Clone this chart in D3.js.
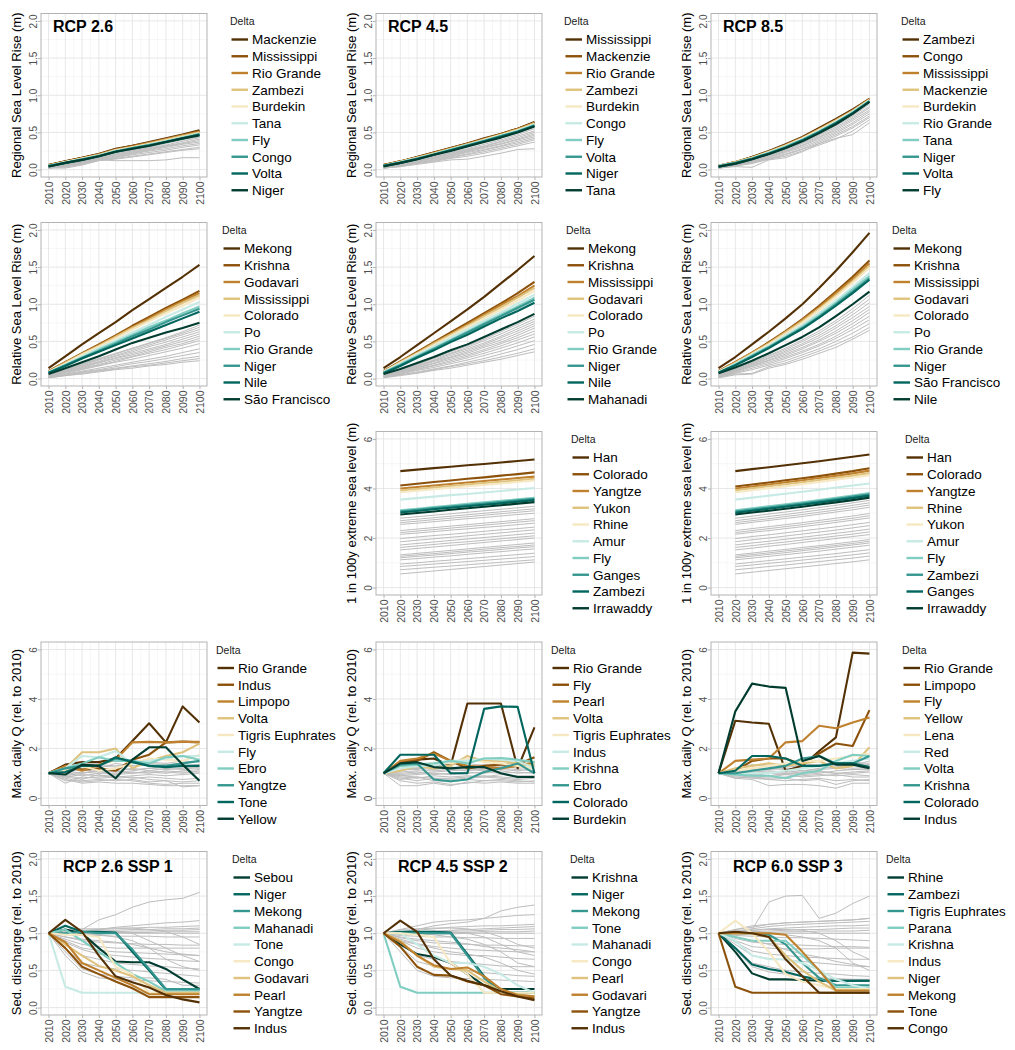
<!DOCTYPE html>
<html>
<head>
<meta charset="utf-8">
<script src="https://cdn.jsdelivr.net/npm/d3@7"></script>
<style>
  body { margin: 0; background: #fff; }
  svg { font-family: "Liberation Sans", Arial, sans-serif; }
</style>
</head>
<body>
<svg id="chart" width="1015" height="1050"></svg>
<script>
// ---- shared axes ----
const years = [2010, 2020, 2030, 2040, 2050, 2060, 2070, 2080, 2090, 2100];
const yearsEsl = [2020, 2030, 2040, 2050, 2060, 2070, 2080, 2090, 2100];
const brbg = ["#543005", "#8c510a", "#bf812d", "#dfc27d", "#f6e8c3", "#c7eae5", "#80cdc1", "#35978f", "#01665e", "#003c30"];
const brbgReversed = brbg.slice().reverse();

// ---- Regional sea level rise, RCP 2.6 ----
const reg26Deltas = ["Mackenzie", "Mississippi", "Rio Grande", "Zambezi", "Burdekin", "Tana", "Fly", "Congo", "Volta", "Niger"];
const reg26Values = [
  [0.06,0.11,0.16,0.21,0.28,0.32,0.37,0.42,0.47,0.53],
  [0.06,0.11,0.16,0.21,0.27,0.32,0.36,0.41,0.46,0.52],
  [0.06,0.10,0.15,0.20,0.27,0.31,0.36,0.41,0.46,0.51],
  [0.05,0.10,0.15,0.20,0.26,0.30,0.35,0.40,0.45,0.50],
  [0.05,0.10,0.15,0.19,0.26,0.30,0.34,0.39,0.44,0.49],
  [0.05,0.10,0.14,0.19,0.25,0.29,0.34,0.38,0.43,0.48],
  [0.05,0.09,0.14,0.19,0.25,0.29,0.33,0.38,0.43,0.48],
  [0.05,0.09,0.14,0.18,0.24,0.29,0.33,0.37,0.42,0.47],
  [0.04,0.09,0.13,0.18,0.24,0.28,0.32,0.37,0.42,0.47],
  [0.04,0.09,0.13,0.18,0.24,0.28,0.32,0.37,0.42,0.46]
];
const reg26Others = [
  [0.03,0.07,0.12,0.16,0.22,0.26,0.30,0.35,0.40,0.44],
  [0.03,0.07,0.11,0.16,0.21,0.25,0.29,0.33,0.38,0.43],
  [0.03,0.07,0.11,0.15,0.20,0.24,0.28,0.32,0.36,0.41],
  [0.03,0.06,0.10,0.14,0.19,0.23,0.27,0.31,0.35,0.39],
  [0.02,0.06,0.10,0.14,0.18,0.22,0.26,0.30,0.34,0.37],
  [0.02,0.05,0.09,0.13,0.17,0.21,0.25,0.28,0.32,0.35],
  [0.02,0.05,0.08,0.12,0.16,0.20,0.23,0.26,0.30,0.33],
  [0.02,0.04,0.07,0.13,0.15,0.18,0.21,0.24,0.27,0.30],
  [0.02,0.02,0.06,0.12,0.14,0.17,0.20,0.23,0.26,0.28],
  [0.03,0.03,0.08,0.13,0.12,0.12,0.12,0.13,0.16,0.16]
];

// ---- Regional sea level rise, RCP 4.5 ----
const reg45Deltas = ["Mississippi", "Mackenzie", "Rio Grande", "Zambezi", "Burdekin", "Congo", "Fly", "Volta", "Niger", "Tana"];
const reg45Values = [
  [0.06,0.11,0.17,0.23,0.29,0.35,0.42,0.48,0.55,0.64],
  [0.06,0.11,0.17,0.23,0.29,0.35,0.41,0.48,0.55,0.63],
  [0.06,0.11,0.16,0.22,0.28,0.34,0.41,0.47,0.54,0.63],
  [0.05,0.10,0.16,0.22,0.28,0.34,0.40,0.47,0.54,0.62],
  [0.05,0.10,0.16,0.21,0.27,0.33,0.40,0.46,0.53,0.61],
  [0.05,0.10,0.15,0.21,0.27,0.33,0.39,0.46,0.52,0.61],
  [0.05,0.10,0.15,0.21,0.27,0.33,0.39,0.45,0.52,0.60],
  [0.05,0.09,0.15,0.20,0.26,0.32,0.38,0.45,0.51,0.59],
  [0.05,0.09,0.14,0.20,0.26,0.32,0.38,0.44,0.51,0.59],
  [0.04,0.09,0.14,0.20,0.25,0.31,0.37,0.43,0.50,0.58]
];
const reg45Others = [
  [0.04,0.08,0.13,0.18,0.23,0.28,0.34,0.40,0.47,0.55],
  [0.04,0.08,0.12,0.17,0.22,0.27,0.32,0.38,0.45,0.52],
  [0.03,0.07,0.12,0.16,0.21,0.26,0.31,0.37,0.43,0.50],
  [0.03,0.07,0.11,0.16,0.20,0.25,0.30,0.35,0.41,0.48],
  [0.03,0.06,0.11,0.15,0.19,0.24,0.29,0.34,0.40,0.46],
  [0.03,0.06,0.10,0.14,0.18,0.23,0.27,0.32,0.38,0.44],
  [0.02,0.05,0.09,0.13,0.17,0.21,0.26,0.31,0.36,0.42],
  [0.02,0.05,0.09,0.12,0.16,0.20,0.24,0.29,0.34,0.40],
  [0.02,0.04,0.08,0.11,0.15,0.18,0.22,0.27,0.32,0.37],
  [0.02,0.04,0.07,0.10,0.13,0.14,0.18,0.22,0.27,0.28]
];

// ---- Regional sea level rise, RCP 8.5 ----
const reg85Deltas = ["Zambezi", "Congo", "Mississippi", "Mackenzie", "Burdekin", "Rio Grande", "Tana", "Niger", "Volta", "Fly"];
const reg85Values = [
  [0.05,0.10,0.17,0.25,0.34,0.44,0.56,0.68,0.81,0.95],
  [0.05,0.10,0.17,0.24,0.33,0.43,0.55,0.67,0.80,0.95],
  [0.05,0.10,0.16,0.24,0.33,0.43,0.54,0.66,0.79,0.94],
  [0.05,0.10,0.16,0.24,0.32,0.42,0.54,0.66,0.79,0.94],
  [0.05,0.09,0.16,0.23,0.32,0.42,0.53,0.65,0.78,0.93],
  [0.05,0.09,0.15,0.23,0.31,0.41,0.52,0.64,0.78,0.93],
  [0.05,0.09,0.15,0.22,0.31,0.40,0.51,0.63,0.77,0.92],
  [0.04,0.09,0.15,0.22,0.30,0.40,0.51,0.63,0.76,0.92],
  [0.04,0.08,0.14,0.21,0.29,0.39,0.50,0.62,0.76,0.91],
  [0.04,0.08,0.14,0.21,0.29,0.38,0.49,0.61,0.75,0.91]
];
const reg85Others = [
  [0.04,0.08,0.13,0.20,0.28,0.37,0.47,0.59,0.72,0.88],
  [0.04,0.07,0.13,0.19,0.27,0.36,0.46,0.57,0.70,0.85],
  [0.03,0.07,0.12,0.19,0.26,0.35,0.44,0.55,0.68,0.83],
  [0.03,0.07,0.12,0.18,0.25,0.33,0.43,0.53,0.66,0.80],
  [0.03,0.06,0.11,0.17,0.24,0.32,0.41,0.51,0.63,0.78],
  [0.03,0.06,0.10,0.16,0.23,0.30,0.39,0.49,0.61,0.75],
  [0.02,0.05,0.10,0.15,0.21,0.28,0.37,0.47,0.58,0.72],
  [0.02,0.05,0.09,0.14,0.20,0.27,0.35,0.45,0.56,0.70],
  [0.02,0.05,0.08,0.14,0.18,0.25,0.33,0.41,0.52,0.67],
  [0.02,0.04,0.03,0.13,0.16,0.24,0.35,0.42,0.47,0.63]
];

// ---- Relative sea level rise, RCP 2.6 ----
const rel26Deltas = ["Mekong", "Krishna", "Godavari", "Mississippi", "Colorado", "Po", "Rio Grande", "Niger", "Nile", "São Francisco"];
const rel26Values = [
  [0.14,0.30,0.46,0.61,0.76,0.92,1.07,1.22,1.37,1.53],
  [0.10,0.22,0.34,0.46,0.58,0.71,0.83,0.95,1.06,1.18],
  [0.10,0.22,0.33,0.45,0.57,0.69,0.81,0.93,1.04,1.15],
  [0.09,0.21,0.33,0.44,0.56,0.68,0.79,0.91,1.02,1.12],
  [0.09,0.20,0.32,0.43,0.54,0.66,0.77,0.88,0.98,1.09],
  [0.09,0.19,0.30,0.41,0.51,0.62,0.72,0.83,0.93,1.03],
  [0.08,0.18,0.28,0.39,0.49,0.59,0.69,0.78,0.88,0.97],
  [0.08,0.18,0.28,0.37,0.47,0.57,0.66,0.76,0.85,0.94],
  [0.08,0.17,0.27,0.36,0.45,0.54,0.63,0.72,0.81,0.90],
  [0.06,0.14,0.22,0.30,0.39,0.48,0.55,0.62,0.68,0.75]
];
const rel26Others = [
  [0.06,0.13,0.20,0.27,0.34,0.41,0.48,0.55,0.63,0.72],
  [0.05,0.12,0.19,0.26,0.33,0.40,0.47,0.54,0.61,0.69],
  [0.05,0.11,0.18,0.25,0.31,0.38,0.45,0.52,0.59,0.66],
  [0.05,0.11,0.17,0.23,0.30,0.36,0.43,0.49,0.56,0.63],
  [0.04,0.10,0.16,0.22,0.28,0.34,0.40,0.46,0.53,0.60],
  [0.04,0.09,0.15,0.21,0.27,0.32,0.38,0.44,0.50,0.57],
  [0.04,0.09,0.14,0.19,0.25,0.30,0.36,0.42,0.47,0.54],
  [0.03,0.08,0.13,0.18,0.23,0.29,0.34,0.39,0.45,0.51],
  [0.03,0.07,0.12,0.17,0.22,0.26,0.31,0.36,0.41,0.47],
  [0.02,0.06,0.10,0.14,0.18,0.22,0.26,0.30,0.35,0.40],
  [0.02,0.05,0.09,0.12,0.16,0.20,0.23,0.27,0.31,0.35],
  [0.02,0.05,0.08,0.11,0.14,0.17,0.20,0.23,0.27,0.30],
  [0.01,0.04,0.07,0.10,0.13,0.16,0.18,0.21,0.24,0.27],
  [0.01,0.04,0.06,0.09,0.12,0.14,0.17,0.19,0.22,0.24]
];

// ---- Relative sea level rise, RCP 4.5 ----
const rel45Deltas = ["Mekong", "Krishna", "Mississippi", "Godavari", "Colorado", "Po", "Rio Grande", "Niger", "Nile", "Mahanadi"];
const rel45Values = [
  [0.14,0.29,0.45,0.61,0.77,0.93,1.10,1.28,1.46,1.65],
  [0.10,0.23,0.36,0.49,0.62,0.75,0.88,1.01,1.15,1.30],
  [0.10,0.22,0.35,0.48,0.60,0.73,0.86,0.99,1.11,1.25],
  [0.09,0.22,0.34,0.47,0.59,0.71,0.84,0.96,1.09,1.22],
  [0.09,0.21,0.33,0.45,0.57,0.69,0.81,0.93,1.05,1.18],
  [0.09,0.20,0.32,0.43,0.55,0.66,0.78,0.89,1.01,1.13],
  [0.08,0.19,0.30,0.41,0.52,0.63,0.75,0.86,0.97,1.09],
  [0.08,0.18,0.29,0.40,0.51,0.62,0.73,0.84,0.95,1.06],
  [0.07,0.17,0.28,0.38,0.49,0.59,0.70,0.81,0.91,1.02],
  [0.06,0.13,0.21,0.29,0.38,0.46,0.56,0.66,0.76,0.87]
];
const rel45Others = [
  [0.05,0.12,0.20,0.28,0.36,0.44,0.53,0.63,0.73,0.84],
  [0.05,0.11,0.19,0.27,0.34,0.42,0.51,0.60,0.70,0.80],
  [0.05,0.11,0.18,0.25,0.33,0.40,0.48,0.57,0.67,0.77],
  [0.04,0.10,0.17,0.24,0.31,0.38,0.46,0.55,0.64,0.74],
  [0.04,0.10,0.16,0.23,0.29,0.36,0.44,0.52,0.61,0.71],
  [0.04,0.09,0.15,0.21,0.28,0.34,0.42,0.49,0.58,0.68],
  [0.03,0.08,0.14,0.20,0.26,0.32,0.39,0.47,0.55,0.64],
  [0.03,0.08,0.13,0.18,0.24,0.30,0.37,0.44,0.52,0.60],
  [0.03,0.07,0.12,0.17,0.22,0.28,0.34,0.41,0.48,0.56],
  [0.02,0.06,0.11,0.15,0.20,0.25,0.31,0.37,0.44,0.51],
  [0.02,0.05,0.09,0.13,0.17,0.22,0.27,0.33,0.39,0.46],
  [0.02,0.05,0.08,0.12,0.16,0.20,0.24,0.29,0.34,0.40],
  [0.01,0.04,0.07,0.11,0.14,0.18,0.22,0.26,0.31,0.36]
];

// ---- Relative sea level rise, RCP 8.5 ----
const rel85Deltas = ["Mekong", "Krishna", "Mississippi", "Godavari", "Colorado", "Po", "Rio Grande", "Niger", "São Francisco", "Nile"];
const rel85Values = [
  [0.14,0.29,0.46,0.63,0.81,1.00,1.22,1.45,1.70,1.96],
  [0.10,0.22,0.35,0.49,0.64,0.80,0.98,1.17,1.37,1.59],
  [0.10,0.22,0.35,0.48,0.63,0.79,0.96,1.15,1.34,1.55],
  [0.09,0.21,0.34,0.47,0.62,0.77,0.94,1.12,1.31,1.52],
  [0.09,0.20,0.33,0.46,0.60,0.75,0.92,1.10,1.29,1.49],
  [0.09,0.20,0.32,0.44,0.58,0.72,0.88,1.05,1.23,1.42],
  [0.08,0.19,0.31,0.43,0.56,0.70,0.85,1.02,1.20,1.38],
  [0.08,0.18,0.30,0.42,0.55,0.68,0.83,1.00,1.17,1.35],
  [0.08,0.18,0.29,0.41,0.54,0.67,0.82,0.98,1.15,1.33],
  [0.07,0.15,0.24,0.34,0.45,0.56,0.69,0.84,1.00,1.17]
];
const rel85Others = [
  [0.06,0.13,0.22,0.31,0.41,0.52,0.64,0.78,0.94,1.12],
  [0.05,0.12,0.21,0.30,0.39,0.50,0.61,0.75,0.90,1.07],
  [0.05,0.12,0.20,0.28,0.37,0.47,0.58,0.71,0.86,1.02],
  [0.05,0.11,0.19,0.27,0.35,0.45,0.55,0.68,0.82,0.97],
  [0.04,0.10,0.18,0.25,0.33,0.42,0.52,0.64,0.78,0.93],
  [0.04,0.10,0.17,0.24,0.31,0.40,0.50,0.61,0.74,0.89],
  [0.03,0.09,0.16,0.22,0.29,0.37,0.46,0.57,0.70,0.84],
  [0.03,0.08,0.14,0.20,0.27,0.35,0.44,0.54,0.66,0.79],
  [0.02,0.07,0.12,0.18,0.24,0.32,0.40,0.50,0.61,0.74],
  [0.02,0.06,0.07,0.16,0.21,0.29,0.37,0.46,0.56,0.69],
  [0.01,0.05,0.06,0.14,0.19,0.26,0.34,0.42,0.53,0.65]
];

// ---- 1 in 100y extreme sea level, RCP 4.5 ----
const esl45Deltas = ["Han", "Colorado", "Yangtze", "Yukon", "Rhine", "Amur", "Fly", "Ganges", "Zambezi", "Irrawaddy"];
const esl45Values = [
  [4.70,4.76,4.82,4.88,4.94,4.99,5.05,5.11,5.17],
  [4.12,4.19,4.26,4.32,4.39,4.45,4.52,4.58,4.65],
  [4.00,4.06,4.12,4.18,4.24,4.30,4.36,4.42,4.48],
  [3.92,3.98,4.04,4.10,4.16,4.22,4.27,4.33,4.39],
  [3.85,3.91,3.97,4.03,4.09,4.14,4.20,4.26,4.32],
  [3.55,3.61,3.67,3.73,3.78,3.84,3.90,3.96,4.02],
  [3.12,3.18,3.25,3.31,3.38,3.44,3.50,3.56,3.62],
  [3.08,3.14,3.21,3.27,3.33,3.39,3.45,3.52,3.58],
  [3.03,3.09,3.16,3.22,3.28,3.34,3.40,3.47,3.53],
  [2.95,3.01,3.07,3.14,3.20,3.26,3.32,3.39,3.45]
];
const esl45Others = [
  [2.80,2.86,2.92,2.98,3.04,3.10,3.16,3.22,3.28],
  [2.70,2.76,2.82,2.88,2.94,3.00,3.06,3.12,3.18],
  [2.62,2.68,2.74,2.80,2.86,2.92,2.98,3.04,3.10],
  [2.55,2.60,2.66,2.72,2.78,2.83,2.89,2.95,3.00],
  [2.30,2.36,2.42,2.48,2.54,2.60,2.66,2.72,2.78],
  [2.22,2.28,2.34,2.40,2.46,2.52,2.58,2.64,2.70],
  [2.15,2.20,2.26,2.32,2.37,2.43,2.48,2.54,2.60],
  [1.98,2.04,2.10,2.15,2.21,2.27,2.33,2.38,2.44],
  [1.85,1.91,1.97,2.03,2.09,2.15,2.21,2.27,2.33],
  [1.72,1.78,1.84,1.90,1.96,2.02,2.08,2.14,2.20],
  [1.62,1.68,1.74,1.80,1.85,1.91,1.97,2.03,2.09],
  [1.52,1.58,1.64,1.70,1.76,1.82,1.88,1.94,2.00],
  [1.32,1.38,1.44,1.50,1.56,1.62,1.68,1.74,1.80],
  [1.26,1.32,1.37,1.43,1.49,1.55,1.61,1.66,1.72],
  [1.20,1.26,1.31,1.37,1.43,1.48,1.54,1.60,1.65],
  [1.12,1.17,1.23,1.28,1.34,1.40,1.45,1.51,1.56],
  [0.95,1.00,1.06,1.11,1.17,1.22,1.28,1.33,1.39],
  [0.85,0.90,0.95,1.00,1.05,1.10,1.15,1.20,1.25],
  [0.72,0.77,0.82,0.87,0.92,0.97,1.02,1.07,1.12],
  [0.55,0.61,0.67,0.73,0.79,0.85,0.91,0.97,1.03]
];

// ---- 1 in 100y extreme sea level, RCP 8.5 ----
const esl85Deltas = ["Han", "Colorado", "Yangtze", "Rhine", "Yukon", "Amur", "Fly", "Zambezi", "Ganges", "Irrawaddy"];
const esl85Values = [
  [4.70,4.78,4.86,4.94,5.02,5.10,5.19,5.28,5.37],
  [4.08,4.16,4.24,4.33,4.41,4.50,4.60,4.70,4.82],
  [4.00,4.08,4.16,4.25,4.33,4.42,4.51,4.61,4.72],
  [3.93,4.01,4.09,4.17,4.25,4.34,4.43,4.52,4.62],
  [3.85,3.93,4.01,4.09,4.17,4.26,4.35,4.44,4.54],
  [3.55,3.63,3.71,3.79,3.87,3.95,4.04,4.12,4.20],
  [3.12,3.20,3.28,3.36,3.44,3.53,3.62,3.72,3.82],
  [3.07,3.15,3.23,3.31,3.39,3.48,3.57,3.67,3.77],
  [3.02,3.10,3.18,3.26,3.34,3.43,3.52,3.61,3.71],
  [2.95,3.03,3.10,3.18,3.26,3.35,3.44,3.53,3.63]
];
const esl85Others = [
  [2.80,2.88,2.97,3.05,3.14,3.23,3.32,3.42,3.52],
  [2.70,2.78,2.87,2.95,3.04,3.13,3.22,3.32,3.42],
  [2.62,2.70,2.78,2.87,2.95,3.04,3.13,3.23,3.33],
  [2.55,2.63,2.71,2.79,2.87,2.96,3.05,3.14,3.24],
  [2.30,2.38,2.46,2.54,2.62,2.71,2.80,2.89,2.99],
  [2.22,2.30,2.38,2.46,2.54,2.63,2.71,2.80,2.90],
  [2.15,2.23,2.30,2.38,2.46,2.54,2.63,2.72,2.81],
  [1.98,2.06,2.13,2.21,2.29,2.37,2.45,2.54,2.63],
  [1.85,1.93,2.00,2.08,2.16,2.24,2.32,2.41,2.50],
  [1.72,1.80,1.87,1.95,2.03,2.11,2.19,2.27,2.36],
  [1.62,1.69,1.77,1.84,1.92,2.00,2.08,2.16,2.25],
  [1.52,1.59,1.67,1.74,1.82,1.90,1.98,2.06,2.14],
  [1.32,1.39,1.47,1.54,1.62,1.69,1.77,1.85,1.94],
  [1.26,1.33,1.40,1.48,1.55,1.63,1.70,1.78,1.87],
  [1.20,1.27,1.34,1.41,1.49,1.56,1.64,1.72,1.80],
  [1.12,1.19,1.26,1.33,1.40,1.47,1.55,1.63,1.71],
  [0.95,1.02,1.09,1.16,1.23,1.30,1.37,1.45,1.53],
  [0.85,0.91,0.98,1.04,1.11,1.18,1.25,1.32,1.40],
  [0.72,0.78,0.85,0.91,0.98,1.05,1.12,1.19,1.27],
  [0.55,0.62,0.69,0.76,0.83,0.90,0.97,1.04,1.12]
];

// ---- Max daily discharge, column 1 ----
const q1Deltas = ["Rio Grande", "Indus", "Limpopo", "Volta", "Tigris Euphrates", "Fly", "Ebro", "Yangtze", "Tone", "Yellow"];
const q1Values = [
  [1.0,1.35,1.45,1.45,1.6,2.3,3.02,2.25,3.7,3.05],
  [1.0,1.25,1.15,1.2,1.1,1.55,1.75,2.25,2.28,2.25],
  [1.0,1.3,1.1,1.35,1.55,2.25,2.27,2.25,2.27,2.27],
  [1.0,1.2,1.85,1.85,2.0,1.2,1.5,1.7,1.85,2.2],
  [1.0,1.1,1.3,1.1,1.2,1.4,1.6,1.55,1.5,1.75],
  [1.0,1.2,1.7,1.65,1.9,1.4,1.5,1.6,1.7,1.7],
  [1.0,1.2,1.4,1.65,1.5,1.5,1.4,1.65,1.7,1.55],
  [1.0,1.2,1.3,1.3,1.6,1.5,1.3,1.3,1.4,1.5],
  [1.0,1.05,1.3,1.3,1.65,1.45,1.3,1.25,1.3,1.3],
  [1.0,0.95,1.35,1.3,0.8,1.55,2.05,2.05,1.35,0.7]
];
const q1Others = [
  [1,1.1,1.2,1.3,1.25,1.3,1.4,1.35,1.4,1.5],
  [1,0.9,1.0,1.1,1.05,1.1,1.2,1.15,1.2,1.3],
  [1,0.85,0.95,0.9,0.95,1.0,1.05,1.0,1.1,1.15],
  [1,0.6,0.85,0.8,0.85,0.9,0.95,0.9,0.95,1.0],
  [1,0.75,0.6,0.65,0.6,0.6,0.55,0.5,0.5,0.5],
  [1,0.8,0.65,0.7,0.75,0.7,0.6,0.55,0.6,0.6],
  [1,1.05,1.15,1.05,1.2,1.15,1.2,1.3,1.25,1.2],
  [1,0.95,1.05,1.0,1.1,1.0,1.1,1.05,1.0,1.1],
  [1,1.2,1.3,1.35,1.3,1.4,1.45,1.4,1.5,1.45],
  [1,0.9,0.8,0.85,0.9,0.8,0.85,0.8,0.75,0.8],
  [1,1.0,0.9,1.0,1.0,1.05,1.0,1.1,1.05,1.05],
  [1,0.85,0.75,0.95,0.8,0.85,0.75,0.7,0.65,0.7],
  [1,1.1,1.0,1.15,1.1,1.2,1.1,1.2,1.15,1.25],
  [1,0.7,0.7,0.75,0.7,0.75,0.65,0.7,0.45,0.5],
  [1,1.15,1.1,1.2,1.4,1.3,1.35,1.25,1.3,1.35]
];

// ---- Max daily discharge, column 2 ----
const q2Deltas = ["Rio Grande", "Fly", "Pearl", "Volta", "Tigris Euphrates", "Indus", "Krishna", "Ebro", "Colorado", "Burdekin"];
const q2Values = [
  [1.0,1.45,1.55,1.6,1.3,3.82,3.82,3.82,1.2,2.85],
  [1.0,1.45,1.5,1.85,1.5,1.2,1.3,1.35,1.35,1.65],
  [1.0,1.5,1.6,1.8,1.5,1.3,1.25,1.2,1.3,1.45],
  [1.0,1.1,1.3,1.2,1.3,1.7,1.5,1.5,1.4,1.3],
  [1.0,1.2,1.35,1.4,1.4,1.6,1.45,1.4,1.3,1.2],
  [1.0,1.2,1.3,1.3,1.5,1.5,1.6,1.55,1.5,1.2],
  [1.0,1.3,1.35,1.4,1.5,1.4,1.6,1.62,1.55,1.45],
  [1.0,1.35,1.4,0.75,0.68,0.75,1.05,1.2,1.4,1.0],
  [1.0,1.75,1.75,1.75,1.0,1.0,3.6,3.7,3.68,1.0],
  [1.0,1.4,1.45,1.25,1.2,1.25,1.25,1.0,0.85,0.85]
];
const q2Others = [
  [1,0.8,0.7,0.8,0.75,0.8,0.85,0.8,0.75,0.8],
  [1,0.5,0.5,0.6,0.5,0.65,0.6,0.65,0.6,0.6],
  [1,1.1,1.2,1.25,1.2,1.3,1.35,1.3,1.3,1.35],
  [1,1.2,1.15,1.3,1.35,1.4,1.3,1.4,1.35,1.3],
  [1,0.9,0.95,1.0,0.95,1.0,1.05,1.0,1.05,1.0],
  [1,0.85,0.8,0.9,0.85,0.9,0.85,0.95,0.9,0.9],
  [1,1.05,1.1,1.1,1.15,1.1,1.2,1.15,1.1,1.2],
  [1,0.95,1.0,1.05,1.1,1.15,1.1,1.2,1.15,1.1],
  [1,0.75,0.85,0.7,0.65,0.75,0.7,0.7,0.65,0.7],
  [1,1.3,1.25,1.2,1.15,1.2,1.25,1.3,1.2,1.25],
  [1,0.7,0.6,0.65,0.55,0.6,0.7,0.75,0.7,0.65],
  [1,1.0,1.05,0.95,1.0,1.05,1.0,1.1,1.0,1.05],
  [1,0.9,0.85,0.8,0.8,0.85,0.9,0.85,0.8,0.85],
  [1,1.15,1.2,1.15,1.25,1.2,1.15,1.25,1.3,1.2]
];

// ---- Max daily discharge, column 3 ----
const q3Deltas = ["Rio Grande", "Limpopo", "Fly", "Yellow", "Lena", "Red", "Volta", "Krishna", "Colorado", "Indus"];
const q3Values = [
  [1.0,3.12,3.05,3.0,1.1,1.3,1.9,2.45,5.87,5.83],
  [1.0,1.1,1.5,1.6,1.6,1.35,1.8,2.2,2.1,3.55],
  [1.0,1.5,1.55,1.6,2.25,2.3,2.92,2.82,3.05,3.25],
  [1.0,1.2,1.3,1.4,1.3,1.4,1.5,1.2,1.3,2.05],
  [1.0,1.1,1.2,1.3,1.4,1.5,1.5,1.6,1.7,1.8],
  [1.0,0.95,1.0,1.0,1.1,1.2,1.3,1.4,1.5,1.6],
  [1.0,0.95,0.9,0.9,0.8,1.0,1.1,1.5,1.75,1.7],
  [1.0,1.0,1.1,1.2,1.3,1.6,1.7,1.4,1.4,1.7],
  [1.0,1.1,1.7,1.7,1.6,1.3,1.3,1.4,1.4,1.25],
  [1.0,3.5,4.62,4.5,4.45,1.5,1.7,1.35,1.35,1.2]
];
const q3Others = [
  [1,0.95,1.0,0.9,1.0,1.05,1.1,1.0,1.05,1.1],
  [1,0.8,0.75,0.5,0.55,0.55,0.5,0.4,0.6,0.6],
  [1,1.1,1.2,1.3,1.35,1.4,1.3,1.4,1.45,1.4],
  [1,1.05,1.1,1.2,1.15,1.25,1.3,1.35,1.3,1.5],
  [1,0.9,0.85,0.8,0.85,0.9,0.95,0.9,0.95,0.9],
  [1,0.85,0.8,0.75,0.7,0.75,0.8,0.7,0.75,0.7],
  [1,1.0,1.05,1.1,1.05,1.1,1.15,1.2,1.15,1.2],
  [1,0.95,1.1,1.15,1.2,1.1,1.2,1.25,1.35,1.3],
  [1,0.8,0.85,0.75,0.8,0.7,0.75,0.55,0.7,0.75],
  [1,1.2,1.35,1.3,1.4,1.3,1.35,1.45,1.4,1.35],
  [1,1.0,0.95,1.0,0.95,1.0,1.05,1.0,1.0,1.05],
  [1,0.9,0.9,0.85,0.95,0.85,0.9,0.95,0.85,0.85],
  [1,1.1,1.15,1.2,1.25,1.3,1.35,1.3,1.2,1.25],
  [1,0.95,1.0,1.05,1.0,0.95,1.0,1.1,1.15,1.15]
];

// ---- Sediment discharge, RCP 2.6 SSP 1 ----
const sed1Deltas = ["Sebou", "Niger", "Mekong", "Mahanadi", "Tone", "Congo", "Godavari", "Pearl", "Yangtze", "Indus"];
const sed1Values = [
  [1.0,1.05,1.0,0.8,0.62,0.61,0.61,0.52,0.38,0.25],
  [1.0,1.1,1.02,1.02,1.01,0.75,0.5,0.24,0.24,0.24],
  [1.0,1.0,1.02,1.0,1.0,0.78,0.52,0.25,0.25,0.25],
  [1.0,1.05,0.9,0.75,0.6,0.45,0.35,0.22,0.22,0.22],
  [1.0,0.28,0.2,0.2,0.2,0.2,0.2,0.2,0.2,0.2],
  [1.0,0.98,0.98,0.95,0.55,0.45,0.2,0.2,0.2,0.2],
  [1.0,0.85,0.7,0.56,0.5,0.42,0.3,0.2,0.2,0.2],
  [1.0,0.88,0.6,0.5,0.4,0.3,0.18,0.18,0.18,0.18],
  [1.0,0.8,0.55,0.45,0.35,0.26,0.14,0.14,0.14,0.14],
  [1.0,1.18,1.02,0.7,0.42,0.34,0.27,0.17,0.11,0.07]
];
const sed1Others = [
  [1,1.0,1.05,1.18,1.25,1.35,1.42,1.45,1.47,1.55],
  [1,1.0,1.02,1.05,1.08,1.1,1.12,1.14,1.15,1.17],
  [1,1.02,1.04,1.05,1.06,1.07,1.08,1.08,1.09,1.1],
  [1,1.01,1.02,1.03,1.04,1.05,1.05,1.06,1.06,1.07],
  [1,1.0,1.01,1.02,1.02,1.03,1.03,1.04,1.04,1.05],
  [1,1.0,1.0,1.0,1.01,1.01,1.01,1.02,1.02,1.02],
  [1,0.99,0.99,0.99,1.0,1.0,1.0,1.0,1.0,1.0],
  [1,0.98,0.97,0.97,0.96,0.96,0.96,0.95,0.95,0.95],
  [1,0.95,0.9,0.88,0.87,0.86,0.85,0.85,0.84,0.84],
  [1,0.92,0.85,0.82,0.8,0.8,0.8,0.8,0.8,0.8],
  [1,0.9,0.8,0.77,0.75,0.74,0.73,0.72,0.71,0.7],
  [1,0.88,0.78,0.72,0.7,0.68,0.66,0.65,0.63,0.62],
  [1,0.85,0.7,0.65,0.6,0.58,0.56,0.55,0.53,0.52],
  [1,0.8,0.6,0.55,0.52,0.5,0.48,0.46,0.44,0.42],
  [1,0.7,0.48,0.4,0.38,0.37,0.36,0.35,0.34,0.33],
  [1,0.75,0.52,0.45,0.42,0.4,0.4,0.38,0.3,0.3],
  [1,1.0,1.0,0.98,0.95,0.9,0.8,0.65,0.55,0.5],
  [1,1.02,1.02,1.02,1.02,1.0,0.9,0.8,0.7,0.62],
  [1,0.95,0.92,0.9,0.88,0.85,0.8,0.75,0.72,0.7],
  [1,1.05,1.06,1.06,1.07,1.07,1.05,1.02,0.95,0.85]
];

// ---- Sediment discharge, RCP 4.5 SSP 2 ----
const sed2Deltas = ["Krishna", "Niger", "Mekong", "Tone", "Mahanadi", "Congo", "Pearl", "Godavari", "Yangtze", "Indus"];
const sed2Values = [
  [1.0,0.85,0.72,0.68,0.6,0.45,0.3,0.25,0.25,0.25],
  [1.0,1.02,1.02,1.02,1.01,0.72,0.42,0.2,0.2,0.2],
  [1.0,1.0,1.0,1.0,1.0,0.7,0.4,0.2,0.2,0.2],
  [1.0,0.28,0.2,0.2,0.2,0.2,0.2,0.2,0.2,0.2],
  [1.0,1.0,0.85,0.7,0.6,0.6,0.55,0.45,0.3,0.2],
  [1.0,1.0,0.98,0.95,0.6,0.45,0.2,0.2,0.2,0.2],
  [1.0,0.9,0.7,0.55,0.52,0.5,0.35,0.22,0.18,0.15],
  [1.0,0.88,0.7,0.57,0.52,0.54,0.42,0.25,0.17,0.15],
  [1.0,0.82,0.55,0.44,0.43,0.35,0.3,0.18,0.15,0.12],
  [1.0,1.17,1.02,0.65,0.43,0.36,0.3,0.22,0.15,0.1]
];
const sed2Others = [
  [1,1.02,1.05,1.1,1.13,1.15,1.2,1.3,1.35,1.38],
  [1,1.05,1.1,1.15,1.17,1.18,1.2,1.22,1.24,1.25],
  [1,1.02,1.04,1.06,1.08,1.09,1.1,1.1,1.11,1.12],
  [1,1.01,1.02,1.03,1.04,1.05,1.06,1.07,1.08,1.09],
  [1,1.0,1.01,1.02,1.03,1.03,1.04,1.05,1.05,1.06],
  [1,1.0,1.0,1.01,1.01,1.01,1.02,1.02,1.02,1.03],
  [1,0.99,0.99,0.99,0.99,1.0,1.0,1.0,1.0,1.0],
  [1,0.97,0.96,0.95,0.95,0.94,0.94,0.93,0.93,0.93],
  [1,0.94,0.9,0.87,0.86,0.85,0.84,0.84,0.83,0.83],
  [1,0.92,0.86,0.82,0.8,0.78,0.77,0.76,0.75,0.75],
  [1,0.9,0.8,0.75,0.72,0.7,0.7,0.68,0.66,0.65],
  [1,0.85,0.7,0.65,0.62,0.6,0.58,0.56,0.55,0.55],
  [1,0.82,0.62,0.56,0.52,0.5,0.47,0.45,0.43,0.42],
  [1,0.75,0.5,0.42,0.4,0.39,0.38,0.37,0.36,0.35],
  [1,1.0,1.0,0.98,0.95,0.92,0.85,0.75,0.6,0.55],
  [1,1.02,1.02,1.02,1.02,1.0,0.95,0.85,0.75,0.7],
  [1,0.95,0.92,0.9,0.88,0.86,0.82,0.8,0.78,0.75],
  [1,1.05,1.06,1.07,1.07,1.06,1.02,0.95,0.85,0.8],
  [1,0.9,0.85,0.8,0.75,0.72,0.68,0.6,0.5,0.45]
];

// ---- Sediment discharge, RCP 6.0 SSP 3 ----
const sed3Deltas = ["Rhine", "Zambezi", "Tigris Euphrates", "Parana", "Krishna", "Indus", "Niger", "Mekong", "Tone", "Congo"];
const sed3Values = [
  [1.0,0.75,0.46,0.38,0.38,0.37,0.36,0.36,0.36,0.36],
  [1.0,0.8,0.58,0.52,0.48,0.42,0.37,0.36,0.36,0.36],
  [1.0,1.0,1.0,0.98,0.85,0.6,0.4,0.3,0.3,0.3],
  [1.0,0.95,0.9,0.9,0.9,0.7,0.5,0.27,0.27,0.27],
  [1.0,0.9,0.7,0.65,0.65,0.6,0.5,0.38,0.3,0.25],
  [1.0,1.17,1.0,0.75,0.45,0.35,0.3,0.25,0.25,0.25],
  [1.0,1.0,1.0,0.95,0.7,0.5,0.35,0.23,0.23,0.23],
  [1.0,1.0,1.0,1.0,0.98,0.75,0.5,0.23,0.23,0.23],
  [1.0,0.28,0.2,0.2,0.2,0.2,0.2,0.2,0.2,0.2],
  [1.0,1.02,1.0,0.95,0.65,0.42,0.2,0.2,0.2,0.2]
];
const sed3Others = [
  [1,1.0,1.05,1.42,1.5,1.51,1.2,1.27,1.4,1.5],
  [1,1.05,1.08,1.12,1.14,1.15,1.16,1.17,1.18,1.2],
  [1,1.03,1.06,1.09,1.11,1.12,1.13,1.14,1.15,1.16],
  [1,1.02,1.04,1.06,1.07,1.08,1.09,1.1,1.1,1.11],
  [1,1.01,1.02,1.03,1.04,1.05,1.05,1.06,1.07,1.07],
  [1,1.0,1.01,1.01,1.02,1.02,1.03,1.03,1.03,1.04],
  [1,0.99,0.99,1.0,1.0,1.0,1.0,1.0,1.0,1.0],
  [1,0.97,0.96,0.95,0.94,0.94,0.93,0.92,0.91,0.9],
  [1,0.93,0.88,0.86,0.85,0.84,0.83,0.82,0.82,0.81],
  [1,0.9,0.82,0.8,0.79,0.79,0.79,0.8,0.8,0.8],
  [1,0.88,0.76,0.72,0.7,0.68,0.67,0.66,0.65,0.65],
  [1,0.85,0.7,0.66,0.64,0.62,0.6,0.58,0.56,0.55],
  [1,0.8,0.6,0.55,0.5,0.48,0.46,0.45,0.43,0.42],
  [1,0.78,0.55,0.48,0.45,0.42,0.4,0.39,0.38,0.38],
  [1,1.0,1.02,1.0,0.98,0.95,0.9,0.8,0.6,0.5],
  [1,1.02,1.04,1.05,1.05,1.04,1.0,0.9,0.75,0.65],
  [1,0.95,0.9,0.85,0.78,0.72,0.68,0.62,0.58,0.55],
  [1,1.05,1.1,1.12,1.14,1.15,1.16,1.17,1.18,1.2]
];

// ---- layout ----
const colLeft = [41, 376, 711];
const rowTop = [13.5, 222.5, 431.5, 642, 851.5];
const panelW = 166, panelH = 163.5;

const slrTicks = [0, 0.5, 1, 1.5, 2];
const qTicks = [0, 2, 4, 6];

const panels = [
  {row: 0, col: 0, xs: years, deltas: reg26Deltas, values: reg26Values, others: reg26Others, colors: brbg, yMax: 2, ticks: slrTicks, yTitle: "Regional Sea Level Rise (m)", title: "RCP 2.6", legendX: 230},
  {row: 0, col: 1, xs: years, deltas: reg45Deltas, values: reg45Values, others: reg45Others, colors: brbg, yMax: 2, ticks: slrTicks, yTitle: "Regional Sea Level Rise (m)", title: "RCP 4.5", legendX: 564},
  {row: 0, col: 2, xs: years, deltas: reg85Deltas, values: reg85Values, others: reg85Others, colors: brbg, yMax: 2, ticks: slrTicks, yTitle: "Regional Sea Level Rise (m)", title: "RCP 8.5", legendX: 901},
  {row: 1, col: 0, xs: years, deltas: rel26Deltas, values: rel26Values, others: rel26Others, colors: brbg, yMax: 2, ticks: slrTicks, yTitle: "Relative Sea Level Rise (m)", legendX: 222},
  {row: 1, col: 1, xs: years, deltas: rel45Deltas, values: rel45Values, others: rel45Others, colors: brbg, yMax: 2, ticks: slrTicks, yTitle: "Relative Sea Level Rise (m)", legendX: 566},
  {row: 1, col: 2, xs: years, deltas: rel85Deltas, values: rel85Values, others: rel85Others, colors: brbg, yMax: 2, ticks: slrTicks, yTitle: "Relative Sea Level Rise (m)", legendX: 892},
  {row: 2, col: 1, xs: yearsEsl, deltas: esl45Deltas, values: esl45Values, others: esl45Others, colors: brbg, yMax: 6, ticks: qTicks, yTitle: "1 in 100y extreme sea level (m)", legendX: 571},
  {row: 2, col: 2, xs: yearsEsl, deltas: esl85Deltas, values: esl85Values, others: esl85Others, colors: brbg, yMax: 6, ticks: qTicks, yTitle: "1 in 100y extreme sea level (m)", legendX: 905},
  {row: 3, col: 0, xs: years, deltas: q1Deltas, values: q1Values, others: q1Others, colors: brbg, yMax: 6, ticks: qTicks, yTitle: "Max. daily Q (rel. to 2010)", legendX: 216},
  {row: 3, col: 1, xs: years, deltas: q2Deltas, values: q2Values, others: q2Others, colors: brbg, yMax: 6, ticks: qTicks, yTitle: "Max. daily Q (rel. to 2010)", legendX: 551},
  {row: 3, col: 2, xs: years, deltas: q3Deltas, values: q3Values, others: q3Others, colors: brbg, yMax: 6, ticks: qTicks, yTitle: "Max. daily Q (rel. to 2010)", legendX: 902},
  {row: 4, col: 0, xs: years, deltas: sed1Deltas, values: sed1Values, others: sed1Others, colors: brbgReversed, yMax: 2, ticks: slrTicks, yTitle: "Sed. discharge (rel. to 2010)", title: "RCP 2.6 SSP 1", legendX: 232},
  {row: 4, col: 1, xs: years, deltas: sed2Deltas, values: sed2Values, others: sed2Others, colors: brbgReversed, yMax: 2, ticks: slrTicks, yTitle: "Sed. discharge (rel. to 2010)", title: "RCP 4.5 SSP 2", legendX: 570},
  {row: 4, col: 2, xs: years, deltas: sed3Deltas, values: sed3Values, others: sed3Others, colors: brbgReversed, yMax: 2, ticks: slrTicks, yTitle: "Sed. discharge (rel. to 2010)", title: "RCP 6.0 SSP 3", legendX: 886}
];

const svg = d3.select("#chart");

function drawPanel(p) {
  const left = colLeft[p.col], top = rowTop[p.row];
  const right = left + panelW, bottom = top + panelH;
  const pad = p.yMax * 0.05;

  const x = d3.scaleLinear().domain([2010 - 4.5, 2100 + 4.5]).range([left, right]);
  const y = d3.scaleLinear().domain([-pad, p.yMax + pad]).range([bottom, top]);

  const g = svg.append("g");

  // minor + major grid
  const xMinor = d3.pairs(years).map(d => (d[0] + d[1]) / 2);
  const yMinor = d3.pairs(p.ticks).map(d => (d[0] + d[1]) / 2);
  g.append("g").selectAll("line").data(xMinor).join("line")
    .attr("x1", d => x(d)).attr("x2", d => x(d)).attr("y1", top).attr("y2", bottom)
    .attr("stroke", "#f1f1f1").attr("stroke-width", 0.6);
  g.append("g").selectAll("line").data(yMinor).join("line")
    .attr("y1", d => y(d)).attr("y2", d => y(d)).attr("x1", left).attr("x2", right)
    .attr("stroke", "#f1f1f1").attr("stroke-width", 0.6);
  g.append("g").selectAll("line").data(years).join("line")
    .attr("x1", d => x(d)).attr("x2", d => x(d)).attr("y1", top).attr("y2", bottom)
    .attr("stroke", "#e4e4e4").attr("stroke-width", 0.9);
  g.append("g").selectAll("line").data(p.ticks).join("line")
    .attr("y1", d => y(d)).attr("y2", d => y(d)).attr("x1", left).attr("x2", right)
    .attr("stroke", "#e4e4e4").attr("stroke-width", 0.9);

  const line = d3.line().x((d, i) => x(p.xs[i])).y(d => y(d));

  // other deltas in grey
  g.append("g").selectAll("path").data(p.others).join("path")
    .attr("d", line).attr("fill", "none")
    .attr("stroke", "#bdbdbd").attr("stroke-width", 1);

  // highlighted deltas
  g.append("g").selectAll("path").data(p.values).join("path")
    .attr("d", line).attr("fill", "none")
    .attr("stroke", (d, i) => p.colors[i]).attr("stroke-width", 2.1)
    .attr("stroke-linejoin", "round");

  // panel border
  g.append("rect").attr("x", left).attr("y", top).attr("width", panelW).attr("height", panelH)
    .attr("fill", "none").attr("stroke", "#b3b3b3").attr("stroke-width", 1);

  // x axis
  const xAxis = g.append("g").attr("transform", "translate(0," + bottom + ")")
    .call(d3.axisBottom(x).tickValues(years).tickFormat(d3.format("d")).tickSize(3).tickSizeOuter(0));
  xAxis.select(".domain").remove();
  xAxis.selectAll(".tick line").attr("stroke", "#b3b3b3");
  xAxis.selectAll(".tick text")
    .attr("transform", "rotate(-90)")
    .attr("x", -4.5).attr("y", 0).attr("dy", "0.35em")
    .attr("text-anchor", "end")
    .attr("fill", "#4d4d4d").attr("font-size", 10.5).attr("font-family", null);

  // y axis
  const fmt = p.yMax > 2 ? d3.format("d") : d3.format(".1f");
  const yAxis = g.append("g").attr("transform", "translate(" + left + ",0)")
    .call(d3.axisLeft(y).tickValues(p.ticks).tickFormat(fmt).tickSize(3).tickSizeOuter(0));
  yAxis.select(".domain").remove();
  yAxis.selectAll(".tick line").attr("stroke", "#b3b3b3");
  yAxis.selectAll(".tick text")
    .attr("transform", "rotate(-90)")
    .attr("x", 0).attr("y", -4.5).attr("dy", 0)
    .attr("text-anchor", "middle")
    .attr("fill", "#4d4d4d").attr("font-size", 10).attr("font-family", null);

  // y axis title
  g.append("text")
    .attr("transform", "translate(" + (left - 20) + "," + (top + panelH / 2) + ") rotate(-90)")
    .attr("text-anchor", "middle").attr("font-size", 13).attr("fill", "#000")
    .text(p.yTitle);

  // scenario title
  if (p.title) {
    const small = p.row === 0;
    g.append("text")
      .attr("x", left + (small ? 12 : 22))
      .attr("y", top + (small ? 18.5 : 20))
      .attr("font-size", 16).attr("font-weight", "bold").attr("fill", "#000")
      .text(p.title);
  }

  // legend
  const lg = g.append("g");
  lg.append("text").attr("x", p.legendX).attr("y", top + 11.5)
    .attr("font-size", 10.5).attr("fill", "#1a1a1a").text("Delta");
  const items = lg.selectAll("g.item").data(p.deltas).join("g").attr("class", "item")
    .attr("transform", (d, i) => "translate(" + p.legendX + "," + (top + 26 + i * 16.75) + ")");
  items.append("line").attr("x1", 1.5).attr("x2", 18).attr("y1", 0).attr("y2", 0)
    .attr("stroke", (d, i) => p.colors[i]).attr("stroke-width", 2.4);
  items.append("text").attr("x", 22).attr("y", 4.8)
    .attr("font-size", 13.5).attr("fill", "#000").text(d => d);
}

panels.forEach(drawPanel);
</script>
</body>
</html>
